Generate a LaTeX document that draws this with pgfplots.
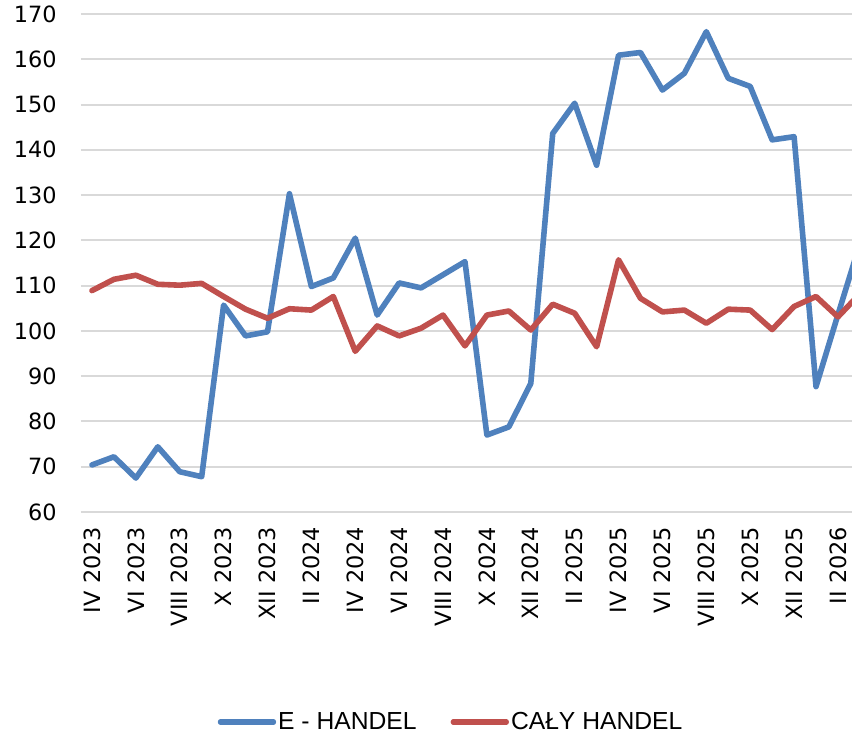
\documentclass[border=0pt]{standalone}
\usepackage{fontspec}
\setmainfont{DejaVu Sans}
\newfontfamily\legendfont{Liberation Sans}
\usepackage{pgfplots}
\pgfplotsset{compat=1.18}
\definecolor{ehandel}{HTML}{4F81BD}
\definecolor{calyhandel}{HTML}{C0504D}
\definecolor{gridgray}{HTML}{D9D9D9}

\pgfplotstableread{
i  e     c
0  70.4  108.9
1  72.2  111.4
2  67.5  112.3
3  74.4  110.3
4  68.9  110.1
5  67.8  110.5
6  105.7 107.6
7  98.9  104.8
8  99.8  102.8
9  130.3 104.9
10 109.8 104.6
11 111.7 107.6
12 120.5 95.5
13 103.5 101.1
14 110.6 98.9
15 109.5 100.6
16 112.4 103.5
17 115.3 96.7
18 77.0  103.5
19 78.8  104.4
20 88.4  100.2
21 143.6 105.9
22 150.3 103.9
23 136.6 96.5
24 160.9 115.7
25 161.5 107.2
26 153.2 104.2
27 156.9 104.6
28 166.1 101.7
29 155.8 104.8
30 154.0 104.6
31 142.2 100.3
32 142.9 105.4
33 87.7  107.6
34 103.6 103.1
35 119.3 108.2
}\handel

\begin{document}
\begin{tikzpicture}
\useasboundingbox (-60.75pt,-171pt) rectangle (578.25pt,384pt);
\begin{axis}[
  scale only axis,
  width=578.25pt, height=373.5pt,
  xmin=-0.5, xmax=34.64, ymin=60, ymax=170,
  ytick={60,70,...,170},
  xtick={0,2,...,34},
  xticklabels={IV 2023,VI 2023,VIII 2023,X 2023,XII 2023,II 2024,IV 2024,VI 2024,VIII 2024,X 2024,XII 2024,II 2025,IV 2025,VI 2025,VIII 2025,X 2025,XII 2025,II 2026},
  ymajorgrids,
  grid style={gridgray, line width=1.5pt},
  axis line style={draw=none},
  major tick length=0pt,
  /pgf/number format/assume math mode=true,
  tick label style={font=\fontsize{16.8}{19}\selectfont, inner sep=0pt},
  yticklabel style={anchor=east},
  yticklabel shift=18pt,
  xticklabel style={rotate=90, anchor=east},
  xticklabel shift=11pt,
  legend columns=2,
  legend style={draw=none, fill=none, at={(0.48,-0.4217)}, anchor=center,
    font=\legendfont\fontsize{18.5}{20}\selectfont,
    /tikz/every even column/.append style={column sep=24pt},
    nodes={inner sep=1.5pt}},
  legend image code/.code={\draw[#1, line width=3.8pt, line cap=round] (0pt,0pt) -- (40pt,0pt);},
  every axis plot/.append style={line width=4.2pt, line join=round, line cap=round},
]
\addplot[ehandel] table[x=i, y=e] {\handel};
\addlegendentry{E - HANDEL}
\addplot[calyhandel] table[x=i, y=c] {\handel};
\addlegendentry{CAŁY HANDEL}
\end{axis}
\end{tikzpicture}
\end{document}
